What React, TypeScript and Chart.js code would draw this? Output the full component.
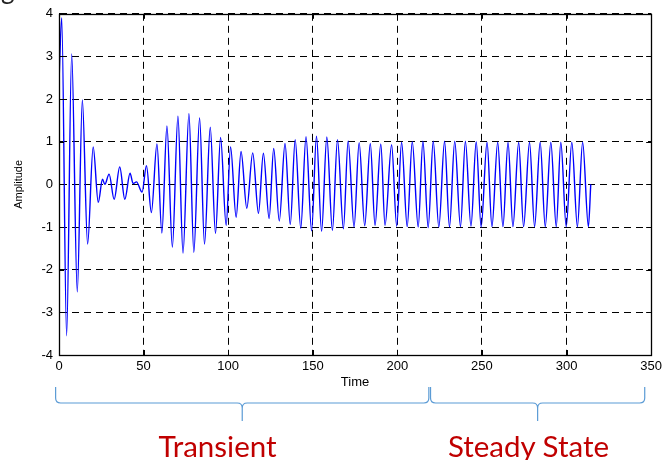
import React, { useEffect, useRef } from "react";
import { Chart, registerables } from "chart.js";

Chart.register(...registerables);

// Time of each extreme / turning point of the response
const timePoints = [
  0, 1.6, 4.5, 7.5, 10.8, 13.8, 16.9, 20.2, 23.2, 25.7, 27.1, 29.6, 32.6, 35.9, 38.9, 42.0,
  43.8, 45.8, 49.1, 51.7, 54.6, 57.9, 60.8, 63.8, 67.0, 70.3, 73.3, 76.8, 79.7, 83.1, 86.0,
  89.4, 92.5, 95.5, 98.8, 101.4, 104.7, 107.6, 111.0, 114.5, 117.9, 120.8, 124.2, 126.9,
  130.2, 133.6, 136.7, 139.6, 142.9, 146.0, 149.3, 152.2, 155.2, 158.3, 161.6, 164.6, 168.1,
  170.9, 174.4, 177.4, 180.7, 184.0, 186.8, 190.2, 192.7, 196.6, 199.6, 202.5, 205.8, 208.8,
  212.3, 215.1, 218.2, 221.2, 224.5, 227.9, 230.8, 233.9, 237.3, 240.2, 243.5, 246.6, 249.5,
  253.0, 255.9, 259.3, 262.4, 265.4, 268.3, 271.7, 274.6, 278.1, 281.1, 284.4, 287.4, 290.7,
  293.9, 296.6, 299.8, 303.1, 306.4, 309.5, 312.9, 314.3,
];

// Amplitude at each of those points
const amplitudeValues = [
  2.4, 3.9, -3.55, 3.06, -2.52, 1.98, -1.4, 0.88, -0.42, 0.12, 0.0, 0.24, -0.35, 0.41, -0.35,
  0.26, 0.02, 0.06, -0.18, 0.44, -0.66, 0.95, -1.14, 1.37, -1.47, 1.6, -1.61, 1.66, -1.59,
  1.56, -1.4, 1.34, -1.15, 1.1, -0.96, 0.88, -0.77, 0.77, -0.56, 0.74, -0.68, 0.73, -0.8,
  0.84, -0.86, 0.96, -0.94, 1.05, -1.03, 1.12, -1.09, 1.13, -1.1, 1.11, -1.08, 1.05, -1.04,
  1.02, -1.0, 0.98, -0.97, 0.96, -0.96, 0.95, -0.96, 0.93, -0.98, 0.99, -0.99, 1.0, -1.0,
  1.01, -1.01, 1.01, -1.0, 1.01, -1.0, 1.01, -0.99, 1.01, -0.98, 1.0, -1.0, 0.99, -0.99,
  0.99, -0.99, 0.99, -0.99, 0.99, -0.99, 0.99, -0.99, 0.99, -0.99, 0.99, -0.99, 0.99, -0.99,
  0.99, -0.99, 0.99, -0.99, 0.0,
];

const xTickLabels = ["0", "50", "100", "150", "200", "250", "300", "350"];
const yTickLabels = ["-4", "-3", "-2", "-1", "0", "1", "2", "3", "4"];

// Time spans covered by the two braces under the axis
const braceStarts = [-2, 219.6];
const braceEnds = [218.6, 346.2];
const phaseLabels = ["Transient", "Steady State"];
const phaseLabelCentres = [93.7, 277.5];

const frameAndBraces = {
  id: "frameAndBraces",
  afterDraw(chart: any) {
    const { ctx, chartArea, scales } = chart;
    const { left, right, top, bottom } = chartArea;
    ctx.save();
    // inward tick marks
    ctx.strokeStyle = "#000";
    ctx.lineWidth = 1;
    ctx.setLineDash([]);
    ctx.beginPath();
    scales.x.ticks.forEach((t: any) => {
      const px = Math.round(scales.x.getPixelForValue(t.value)) + 0.5;
      ctx.moveTo(px, bottom);
      ctx.lineTo(px, bottom - 5);
      ctx.moveTo(px, top);
      ctx.lineTo(px, top + 5);
    });
    scales.y.ticks.forEach((t: any) => {
      const py = Math.round(scales.y.getPixelForValue(t.value)) + 0.5;
      ctx.moveTo(left, py);
      ctx.lineTo(left + 5, py);
      ctx.moveTo(right, py);
      ctx.lineTo(right - 5, py);
    });
    ctx.stroke();
    // frame
    ctx.lineWidth = 1.3;
    ctx.strokeRect(Math.round(left) + 0.5, Math.round(top) + 0.5, Math.round(right - left), Math.round(bottom - top));

    // braces
    const yTop = 387;
    const yMid = 403;
    const yTip = 421;
    const r = 5;
    ctx.strokeStyle = "#5b9bd5";
    ctx.lineWidth = 1.2;
    braceStarts.forEach((s, i) => {
      const x1 = scales.x.getPixelForValue(s);
      const x2 = scales.x.getPixelForValue(braceEnds[i]);
      const xm = (x1 + x2) / 2;
      ctx.beginPath();
      ctx.moveTo(x1, yTop);
      ctx.lineTo(x1, yMid - r);
      ctx.quadraticCurveTo(x1, yMid, x1 + r, yMid);
      ctx.lineTo(xm - r, yMid);
      ctx.quadraticCurveTo(xm, yMid, xm, yMid + r);
      ctx.lineTo(xm, yTip);
      ctx.moveTo(x2, yTop);
      ctx.lineTo(x2, yMid - r);
      ctx.quadraticCurveTo(x2, yMid, x2 - r, yMid);
      ctx.lineTo(xm + r, yMid);
      ctx.quadraticCurveTo(xm, yMid, xm, yMid + r);
      ctx.stroke();
    });
    ctx.restore();
  },
};

export default function App() {
  const canvasRef = useRef<HTMLCanvasElement | null>(null);
  const labelRefs = useRef<(HTMLDivElement | null)[]>([]);

  useEffect(() => {
    const canvas = canvasRef.current;
    if (!canvas) return;
    const points = timePoints.map((t, i) => ({ x: t, y: amplitudeValues[i] }));
    const tickFont = { family: "'Liberation Sans', Arial, sans-serif", size: 13 };
    const grid = {
      color: "#000",
      lineWidth: 1,
      drawTicks: false,
    };
    const chart = new Chart(canvas, {
      type: "line",
      data: {
        datasets: [
          {
            data: points,
            borderColor: "#0000ff",
            borderWidth: 1.4,
            pointRadius: 0,
            fill: false,
            cubicInterpolationMode: "monotone",
          },
        ],
      },
      options: {
        animation: false,
        responsive: false,
        events: [],
        layout: { padding: { left: 0, right: 13, top: 13, bottom: 0 } },
        plugins: { legend: { display: false }, tooltip: { enabled: false } },
        scales: {
          x: {
            type: "linear",
            min: 0,
            max: 350,
            afterFit: (s: any) => {
              s.height = 105;
            },
            ticks: {
              stepSize: 50,
              padding: 4,
              color: "#000",
              font: tickFont,
              callback: (v: any) => xTickLabels[Math.round(Number(v) / 50)] ?? "",
            },
            grid: { ...grid, borderDash: [7, 5] } as any,
            border: { display: true, color: "#000", width: 1, dash: [7, 5] } as any,
            title: {
              display: true,
              text: "Time",
              color: "#000",
              font: { family: "'Liberation Sans', Arial, sans-serif", size: 13 },
              padding: { top: 0, bottom: 70 },
            },
          },
          y: {
            type: "linear",
            min: -4,
            max: 4,
            afterFit: (s: any) => {
              s.width = 59;
            },
            ticks: {
              stepSize: 1,
              padding: 6,
              color: "#000",
              font: tickFont,
              callback: (v: any) => yTickLabels[Math.round(Number(v)) + 4] ?? "",
            },
            grid: { ...grid, borderDash: [7, 5] } as any,
            border: { display: true, color: "#000", width: 1, dash: [7, 5] } as any,
            title: {
              display: true,
              text: "Amplitude",
              color: "#000",
              font: { family: "'Liberation Sans', Arial, sans-serif", size: 11 },
              padding: { top: 12, bottom: 0 },
            },
          },
        },
      } as any,
      plugins: [frameAndBraces],
    });

    // place phase labels
    labelRefs.current.forEach((el, i) => {
      if (!el) return;
      el.style.left = `${chart.scales.x.getPixelForValue(phaseLabelCentres[i])}px`;
    });

    return () => chart.destroy();
  }, []);

  return (
    <div style={{ position: "fixed", left: 0, top: 0, width: 666, height: 460, background: "#fff", overflow: "hidden" }}>
      <canvas ref={canvasRef} width={666} height={460} style={{ position: "absolute", left: 0, top: 0 }} />
      <div
        style={{
          position: "absolute",
          left: 1,
          top: -24,
          fontFamily: "Lato, 'Noto Sans', sans-serif",
          fontSize: 26,
          lineHeight: "26px",
          color: "#222",
        }}
      >
        g
      </div>
      {phaseLabels.map((label, i) => (
        <div
          key={label}
          ref={(el) => {
            labelRefs.current[i] = el;
          }}
          style={{
            position: "absolute",
            top: 431,
            transform: "translateX(-50%)",
            whiteSpace: "nowrap",
            fontFamily: "Lato, 'Noto Sans', sans-serif",
            fontSize: 29.5,
            lineHeight: "29px",
            color: "#c00000",
          }}
        >
          {label}
        </div>
      ))}
    </div>
  );
}
